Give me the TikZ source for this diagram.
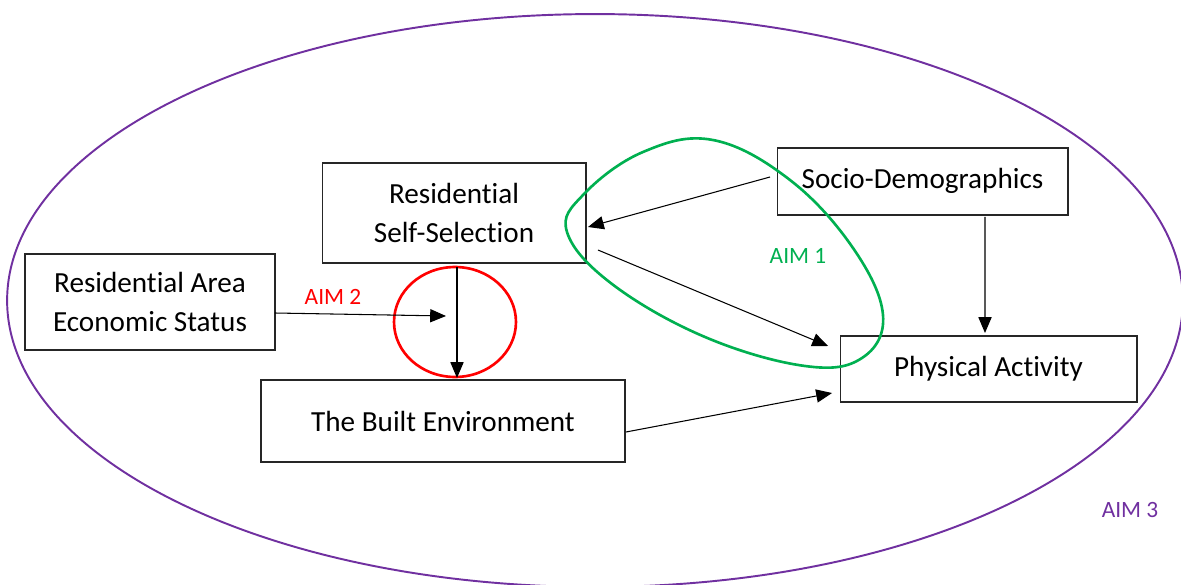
\documentclass[tikz,border=0pt]{standalone}
\usepackage{fontspec}
\setmainfont[Ligatures={NoCommon,NoRare}]{Carlito}
\usepackage{tikz}
\usetikzlibrary{arrows.meta, calc}
\definecolor{aimonecolor}{RGB}{0, 176, 80}
\definecolor{aimtwocolor}{RGB}{255, 0, 0}
\definecolor{aimthreecolor}{RGB}{112, 48, 160}

\begin{document}
\begin{tikzpicture}[
    x=0.02cm, y=-0.02cm,
    box/.style={rectangle, draw=black!85, line width=0.6pt, inner sep=0pt, outer sep=0pt, align=center, font=\fontsize{16.6}{21.7}\selectfont},
    aimlabel/.style={font=\fontsize{13.3}{16}\selectfont},
    arrow/.style={-{Triangle[length=9pt, width=7.5pt]}, line width=0.6pt},
]
\useasboundingbox (0,0) rectangle (1181,585);

% ============ BOXES ============
\node[box, minimum width=5.28cm, minimum height=2.0cm] (selfsel) at (454,213) {Residential\\Self-Selection};
\node[box, minimum width=5.82cm, minimum height=1.34cm] (sociodem) at (922.5,181.5) {\raisebox{3pt}{Socio-Demographics}};
\node[box, minimum width=5.0cm, minimum height=1.92cm] (areastatus) at (150,302) {Residential Area\\Economic Status};
\node[box, minimum width=7.28cm, minimum height=1.64cm, line width=1.1pt] (builtenv) at (443,421) {The Built Environment};
\node[box, minimum width=5.94cm, minimum height=1.32cm] (physact) at (988.5,369) {Physical Activity};

% free end of the AIM 2 arrow
\coordinate (aimtwotip) at (446,316);

% ============ AIM OUTLINES ============
\draw[aimthreecolor, line width=1.1pt] (595,300.5) ellipse [x radius=11.76cm, y radius=5.73cm];
\draw[aimtwocolor, line width=1.5pt] (455,322) ellipse [x radius=1.22cm, y radius=1.1cm];
\draw[aimonecolor, line width=1.5pt] plot[smooth cycle, tension=0.65] coordinates {
    (713,140) (790,180) (853,248) (883,315) (862,358) (805,366)
    (705,337) (612,284) (567,232) (584,194) (643,152)};

% ============ LABELS ============
\node[aimlabel, text=aimonecolor] (aimone) at (798,256) {AIM 1};
\node[aimlabel, text=aimtwocolor] (aimtwo) at (333,297) {AIM 2};
\node[aimlabel, text=aimthreecolor] (aimthree) at (1130,510) {AIM 3};

% ============ ARROWS ============
\draw[arrow] ($(sociodem.west)+(-7,-4.5)$) -- ($(selfsel.east)+(2,14)$);
\draw[arrow] ($(selfsel.east)+(12,37)$) -- ($(physact.west)+(-12,-23)$);
\draw[arrow] ($(sociodem.south)+(62.5,2)$) -- ($(physact.north)+(-3.5,-3)$);
\draw[arrow] ($(selfsel.south)+(3,4)$) -- ($(builtenv.north)+(14,-2)$);
\draw[arrow] ($(areastatus.east)+(0,11)$) -- (aimtwotip);
\draw[arrow] ($(builtenv.east)+(1,11)$) -- ($(physact.west)+(-8,24)$);

\end{tikzpicture}
\end{document}
